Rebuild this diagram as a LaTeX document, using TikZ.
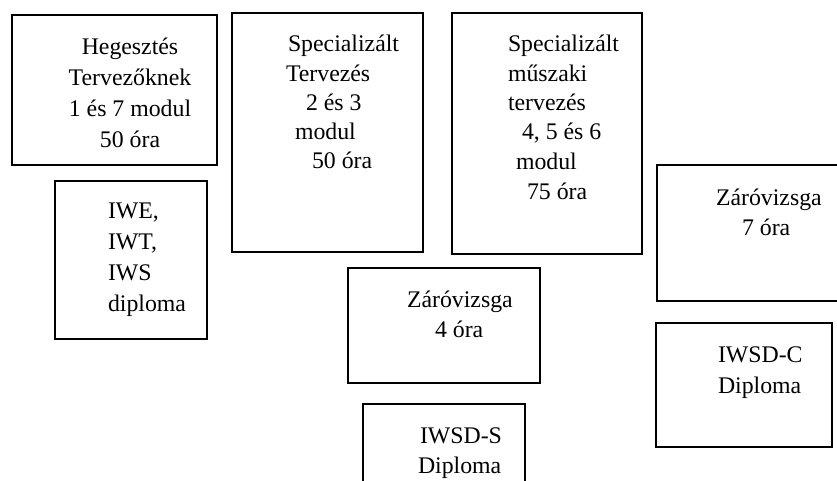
\documentclass[tikz,border=0pt]{standalone}
\usepackage{fontspec}
\setmainfont{Liberation Serif}
\begin{document}
\begin{tikzpicture}[x=1pt,y=-1pt,
  box/.style={draw=black, line width=1.6pt, inner sep=0pt, outer sep=0pt},
  txt/.style={inner sep=0pt, outer sep=0pt, anchor=base west, font=\fontsize{23.8}{29}\selectfont},
  ctxt/.style={txt, anchor=base}]
\useasboundingbox (0,0) rectangle (837,481);
\clip (0,0) rectangle (837,481);
% boxes
\node[box, minimum width=205pt, minimum height=150pt] (b1) at (114.5,90) {};
\node[box, minimum width=152pt, minimum height=158pt] (b2) at (131,260) {};
\node[box, minimum width=191pt, minimum height=239pt] (b3) at (327.5,132.5) {};
\node[box, minimum width=190pt, minimum height=241pt] (b4) at (547,133.5) {};
\node[box, minimum width=184pt, minimum height=136pt] (b5) at (749,233) {};
\node[box, minimum width=192pt, minimum height=115pt] (b6) at (444,325.5) {};
\node[box, minimum width=176pt, minimum height=124pt] (b7) at (744,385) {};
\node[box, minimum width=162pt, minimum height=90pt] (b8) at (444,449) {};
% box 1 text
\node[ctxt] (t1a) at (130,55) {Hegesztés};
\node[ctxt] (t1b) at (130,86) {Tervezőknek};
\node[ctxt] (t1c) at (130,117) {1 és 7 modul};
\node[ctxt] (t1d) at (130,148) {50 óra};
% box 2 text
\node[txt] (t2a) at (108,218) {IWE,};
\node[txt] (t2b) at (108,249) {IWT,};
\node[txt] (t2c) at (108,280) {IWS};
\node[txt] (t2d) at (108,311) {diploma};
% box 3 text
\node[txt] (t3a) at (288,52) {Specializált};
\node[txt] (t3b) at (286,82) {Tervezés};
\node[txt] (t3c) at (306,111) {2 és 3};
\node[txt] (t3d) at (295,140) {modul};
\node[txt] (t3e) at (312,169) {50 óra};
% box 4 text
\node[txt] (t4a) at (508,52) {Specializált};
\node[txt] (t4b) at (508,82) {műszaki};
\node[txt] (t4c) at (508,111) {tervezés};
\node[txt] (t4d) at (522,140) {4, 5 és 6};
\node[txt] (t4e) at (516,170) {modul};
\node[txt] (t4f) at (527,199) {75 óra};
% box 5 text
\node[txt] (t5a) at (716,205) {Záróvizsga};
\node[txt] (t5b) at (742,235) {7 óra};
% box 6 text
\node[txt] (t6a) at (407,307) {Záróvizsga};
\node[txt] (t6b) at (435,337) {4 óra};
% box 7 text
\node[txt] (t7a) at (718,362) {IWSD-C};
\node[txt] (t7b) at (718,393) {Diploma};
% box 8 text
\node[txt] (t8a) at (420,443) {IWSD-S};
\node[txt] (t8b) at (418,473) {Diploma};
\end{tikzpicture}
\end{document}
